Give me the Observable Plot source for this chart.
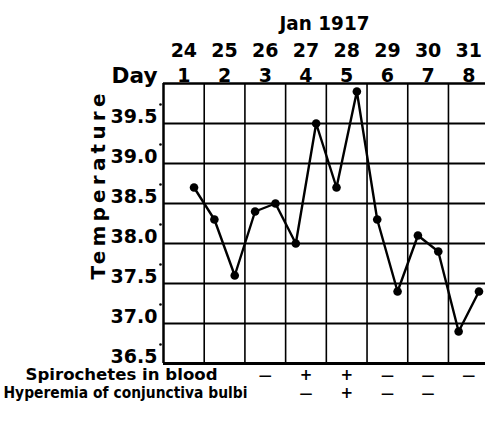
<!DOCTYPE html>
<html>
<head>
<meta charset="utf-8">
<script src="https://cdn.jsdelivr.net/npm/d3@7"></script>
<script src="https://cdn.jsdelivr.net/npm/@observablehq/plot@0.6"></script>
<style>
  html, body { margin: 0; padding: 0; background: white; }
  svg text { font-family: "DejaVu Sans", sans-serif; }
</style>
</head>
<body>
<div id="chart"></div>
<script>
// ---- data ----
const days = [1, 2, 3, 4, 5, 6, 7, 8];
const dates = ["24", "25", "26", "27", "28", "29", "30", "31"];
const monthLabel = "Jan 1917";
// reading times (day units: evening = day + 0.25, morning = day - 0.25)
const readingTimes = [1.25, 1.75, 2.25, 2.75, 3.25, 3.75, 4.25, 4.75, 5.25, 5.75, 6.25, 6.75, 7.25, 7.75, 8.25];
const temperatures = [38.7, 38.3, 37.6, 38.4, 38.5, 38.0, 39.5, 38.7, 39.9, 38.3, 37.4, 38.1, 37.9, 36.9, 37.4];
const tempTicks = [36.5, 37.0, 37.5, 38.0, 38.5, 39.0, 39.5];
const tempLabels = ["36.5", "37.0", "37.5", "38.0", "38.5", "39.0", "39.5"];
const spiroDays = [3, 4, 5, 6, 7, 8];
const spiroSigns = ["—", "+", "+", "—", "—", "—"];
const hyperDays = [4, 5, 6, 7];
const hyperSigns = ["—", "+", "—", "—"];
const row1Label = "Spirochetes in blood";
const row2Label = "Hyperemia of conjunctiva bulbi";
const yTitle = "Temperature";
const dayTitle = "Day";

const readings = readingTimes.map((t, i) => ({t, temp: temperatures[i]}));
const dayBounds = days.slice(1).map(d => d - 0.5);
const signSize = s => (s === "+" ? 15 : 13);

const chart = Plot.plot({
  width: 485,
  height: 421,
  marginTop: 83,
  marginBottom: 58,
  marginLeft: 163,
  marginRight: 0,
  x: {domain: [0.5, 8.41], axis: null},
  y: {domain: [36.5, 40], axis: null},
  style: {background: "white", color: "black"},
  marks: [
    Plot.ruleX(dayBounds, {stroke: "black", strokeWidth: 1.6}),
    Plot.ruleY(tempTicks.slice(1), {stroke: "black", strokeWidth: 2}),
    Plot.ruleY([40], {stroke: "black", strokeWidth: 2.5}),
    Plot.ruleY([36.5], {stroke: "black", strokeWidth: 3}),
    Plot.ruleX([0.5], {stroke: "black", strokeWidth: 2.5}),
    Plot.line(readings, {x: "t", y: "temp", stroke: "black", strokeWidth: 2.4}),
    Plot.dot(readings, {x: "t", y: "temp", r: 4.3, fill: "black", stroke: "none"}),
    // y tick labels
    Plot.text(tempTicks, {y: d => d, frameAnchor: "left", text: (d, i) => tempLabels[i], textAnchor: "end", lineAnchor: "bottom", dx: -6, dy: -1, fontSize: 19, fontWeight: "bold"}),
    Plot.dot(tempTicks, {y: d => d, frameAnchor: "left", r: 1.3, fill: "black", stroke: "none", dx: -3, dy: -19}),
    Plot.text([yTitle], {frameAnchor: "left", textAnchor: "middle", rotate: -90, dx: -65, dy: -37, fontSize: 20, fontWeight: "bold"}),
    // top labels
    Plot.text(days, {x: d => d, frameAnchor: "top", text: (d, i) => dates[i], dy: -40, fontSize: 19, fontWeight: "bold"}),
    Plot.text(days, {x: d => d, frameAnchor: "top", text: d => String(d), dy: -15, fontSize: 19, fontWeight: "bold"}),
    Plot.text([monthLabel], {frameAnchor: "top", dy: -68, fontSize: 20, fontWeight: "bold"}),
    Plot.text([dayTitle], {frameAnchor: "top-left", textAnchor: "end", dx: -6, dy: -15, fontSize: 21, fontWeight: "bold"}),
    // bottom rows
    Plot.text([row1Label], {frameAnchor: "bottom-left", textAnchor: "start", dx: -138, dy: 16, fontSize: 16, fontWeight: "bold"}),
    Plot.text([row2Label], {frameAnchor: "bottom-left", textAnchor: "start", dx: -160, dy: 34, fontSize: 15, fontWeight: "bold"}),
    Plot.text(spiroDays, {x: d => d, frameAnchor: "bottom", text: (d, i) => spiroSigns[i], fontSize: (d, i) => signSize(spiroSigns[i]), dy: 16, fontWeight: "bold"}),
    Plot.text(hyperDays, {x: d => d, frameAnchor: "bottom", text: (d, i) => hyperSigns[i], fontSize: (d, i) => signSize(hyperSigns[i]), dy: 34, fontWeight: "bold"})
  ]
});

// fit hand-lettered label widths
const fits = {
  [row1Label]: [192, "spacingAndGlyphs"],
  [row2Label]: [244, "spacingAndGlyphs"],
  [yTitle]: [186, "spacing"],
  [monthLabel]: [90, "spacingAndGlyphs"],
  [dayTitle]: [46, "spacingAndGlyphs"]
};
d3.select(chart).selectAll("text").each(function() {
  const f = fits[this.textContent];
  if (f) {
    this.setAttribute("textLength", f[0]);
    this.setAttribute("lengthAdjust", f[1]);
  }
});
document.getElementById("chart").appendChild(chart);
</script>
</body>
</html>
